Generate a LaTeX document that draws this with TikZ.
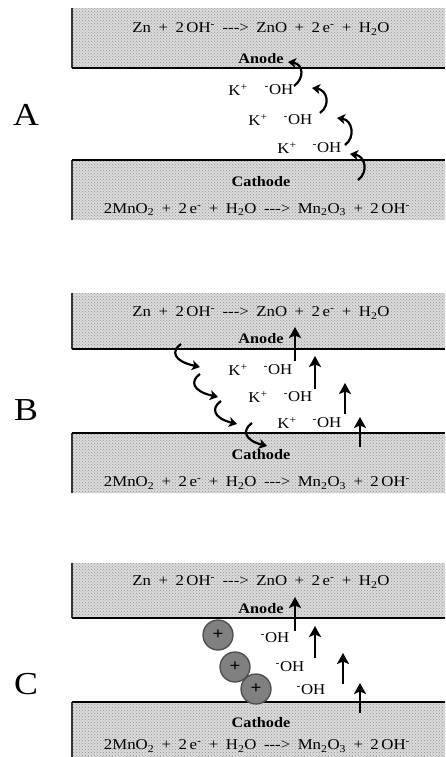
\documentclass[tikz,border=0pt]{standalone}
\usepackage{fontspec}
\setmainfont{Liberation Serif}[FakeStretch=1.12]
\usetikzlibrary{arrows.meta,patterns,calc}
\newcommand\gp{\hspace{0.5em}}
\newcommand\arr{{-}{-}{-}>}
\newcommand\anodeq{Zn\gp+\gp2\,OH\textsuperscript{-}\gp\arr\gp ZnO\gp+\gp 2\,e\textsuperscript{-}\gp+\gp H\textsubscript{2}O}
\newcommand\cathodeq{2MnO\textsubscript{2}\gp+\gp2\,e\textsuperscript{-}\gp+\gp H\textsubscript{2}O\gp\arr\gp Mn\textsubscript{2}O\textsubscript{3}\gp+\gp2\,OH\textsuperscript{-}}
\newcommand\OHm{\textsuperscript{-}OH}
\newcommand\Kp{K\textsuperscript{+}}
\tikzset{
  txt/.style={font=\fontsize{15}{17}\selectfont, inner sep=0pt},
  lab/.style={font=\bfseries\fontsize{14.5}{17}\selectfont, inner sep=0pt},
  panel/.style={font=\fontsize{32}{34}\selectfont, inner sep=0pt},
  blockfill/.style={fill=gray!28},
  blockdots/.style={pattern=crosshatch dots, pattern color=gray!85},
  iface/.style={line width=2pt, black},
  side/.style={line width=1.3pt, black!80},
  curly/.style={line width=2.2pt, -{Stealth[length=8pt,width=10pt,inset=2pt]}},
  squig/.style={line width=2.2pt, -{Stealth[length=8pt,width=10pt,inset=2pt]}},
  uparr/.style={line width=2.8pt, -{Stealth[length=11pt,width=12pt,inset=2.5pt]}},
  ionball/.style={circle, minimum size=30pt, inner sep=0pt, fill=gray, draw=black!70, line width=1.3pt, font=\bfseries\fontsize{17}{17}\selectfont},
}
\begin{document}
\begin{tikzpicture}[x=1pt,y=-1pt]
\useasboundingbox (0,0) rectangle (445,757);
% ---------- blocks ----------
\foreach \top/\line/\cline/\bot in {8/68/160/220, 293/349/433/493, 563/618/702/757}{
  \fill[blockfill] (72,\top) rectangle (445,\line);
  \fill[blockdots] (72,\top) rectangle (445,\line);
  \fill[blockfill] (72,\cline) rectangle (445,\bot);
  \fill[blockdots] (72,\cline) rectangle (445,\bot);
  \draw[side] (72,\top) -- (72,\line);
  \draw[side] (72,\cline) -- (72,\bot);
  \draw[iface] (72,\line) -- (445,\line);
  \draw[iface] (72,\cline) -- (445,\cline);
}
% ---------- panel letters ----------
\node[panel] (pA) at (26,115) {A};
\node[panel] (pB) at (26,410) {B};
\node[panel] (pC) at (26,684) {C};
% ---------- Panel A ----------
\node[txt] (eqAa) at (261,29) {\anodeq};
\node[lab] (anA) at (261,59) {Anode};
\node[lab] (caA) at (261,182) {Cathode};
\node[txt] (eqAc) at (257,210) {\cathodeq};
\node[txt] (kA1) at (238,90) {\Kp};
\node[txt] (oA1) at (279,90) {\OHm};
\node[txt] (kA2) at (258,120) {\Kp};
\node[txt] (oA2) at (298,120) {\OHm};
\node[txt] (kA3) at (287,148) {\Kp};
\node[txt] (oA3) at (327,148) {\OHm};
\coordinate (a1s) at (294,86);  \coordinate (a1e) at (288,62);
\coordinate (a2s) at (320,113); \coordinate (a2e) at (312,88);
\coordinate (a3s) at (345,145); \coordinate (a3e) at (337,118);
\coordinate (a4s) at (358,180); \coordinate (a4e) at (350,154);
\foreach \i in {1,2,3,4}{
  \draw[curly] (a\i s) .. controls ($(a\i s)+(11,-8)$) and ($(a\i e)+(15,2)$) .. (a\i e);
}
% ---------- Panel B ----------
\node[txt] (eqBa) at (261,313) {\anodeq};
\node[lab] (anB) at (261,339) {Anode};
\node[lab] (caB) at (261,455) {Cathode};
\node[txt] (eqBc) at (257,483) {\cathodeq};
\node[txt] (kB1) at (238,370) {\Kp};
\node[txt] (oB1) at (278,370) {\OHm};
\node[txt] (kB2) at (258,397) {\Kp};
\node[txt] (oB2) at (298,397) {\OHm};
\node[txt] (kB3) at (287,423) {\Kp};
\node[txt] (oB3) at (327,423) {\OHm};
\coordinate (b1s) at (181,344); \coordinate (b1e) at (200,367);
\coordinate (b2s) at (200,374); \coordinate (b2e) at (218,397);
\coordinate (b3s) at (221,401); \coordinate (b3e) at (237,424);
\coordinate (b4s) at (252,423); \coordinate (b4e) at (267,446);
\foreach \i in {1,2,3,4}{
  \draw[squig] (b\i s) .. controls ($(b\i s)+(-10,7)$) and ($(b\i s)+(-8,17)$) .. (b\i e);
}
\coordinate (u1s) at (295,361); \coordinate (u1e) at (295,327);
\coordinate (u2s) at (315,389); \coordinate (u2e) at (315,356);
\coordinate (u3s) at (345,414); \coordinate (u3e) at (345,383);
\coordinate (u4s) at (360,447); \coordinate (u4e) at (360,417);
\foreach \i in {1,2,3,4}{ \draw[uparr] (u\i s) -- (u\i e); }
% ---------- Panel C ----------
\node[txt] (eqCa) at (261,582) {\anodeq};
\node[lab] (anC) at (261,609) {Anode};
\node[lab] (caC) at (261,723) {Cathode};
\node[txt] (eqCc) at (257,746) {\cathodeq};
\node[ionball] (k1) at (218,635) {+};
\node[ionball] (k2) at (235,667) {+};
\node[ionball] (k3) at (256,689) {+};
\node[txt] (oC1) at (275,638) {\OHm};
\node[txt] (oC2) at (290,667) {\OHm};
\node[txt] (oC3) at (311,690) {\OHm};
\coordinate (v1s) at (295,631); \coordinate (v1e) at (295,597);
\coordinate (v2s) at (315,658); \coordinate (v2e) at (315,626);
\coordinate (v3s) at (343,684); \coordinate (v3e) at (343,653);
\coordinate (v4s) at (360,713); \coordinate (v4e) at (360,683);
\foreach \i in {1,2,3,4}{ \draw[uparr] (v\i s) -- (v\i e); }
\end{tikzpicture}
\end{document}
